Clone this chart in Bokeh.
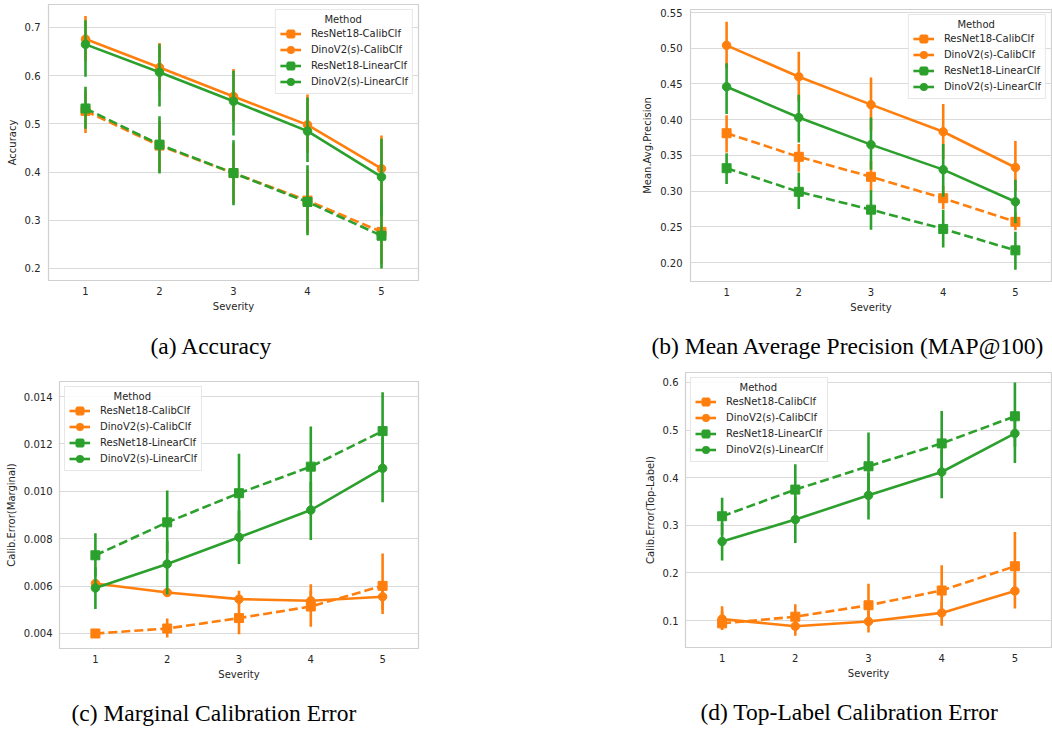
from bokeh.plotting import figure
from bokeh.layouts import column, row
from bokeh.models import (ColumnDataSource, Range1d, FixedTicker, PrintfTickFormatter,
                          Legend, LegendItem, LinearAxis, Title)
from bokeh.embed import file_html
from bokeh.resources import INLINE

# ---------------- data ----------------
severity = [1, 2, 3, 4, 5]
methods = ["ResNet18-CalibClf", "DinoV2(s)-CalibClf", "ResNet18-LinearClf", "DinoV2(s)-LinearClf"]

# (a) Accuracy
acc_resnet_calib = [0.527, 0.455, 0.398, 0.341, 0.276]
acc_resnet_calib_lo = [0.481, 0.400, 0.335, 0.274, 0.210]
acc_resnet_calib_hi = [0.570, 0.505, 0.460, 0.405, 0.345]
acc_dino_calib = [0.676, 0.617, 0.557, 0.498, 0.407]
acc_dino_calib_lo = [0.630, 0.570, 0.505, 0.440, 0.340]
acc_dino_calib_hi = [0.724, 0.668, 0.614, 0.561, 0.476]
acc_resnet_linear = [0.532, 0.457, 0.398, 0.338, 0.268]
acc_resnet_linear_lo = [0.490, 0.397, 0.331, 0.269, 0.200]
acc_resnet_linear_hi = [0.577, 0.516, 0.466, 0.414, 0.340]
acc_dino_linear = [0.665, 0.607, 0.547, 0.485, 0.390]
acc_dino_linear_lo = [0.598, 0.536, 0.476, 0.421, 0.310]
acc_dino_linear_hi = [0.715, 0.665, 0.610, 0.555, 0.469]

# (b) Mean Average Precision
map_resnet_calib = [0.381, 0.348, 0.320, 0.290, 0.257]
map_resnet_calib_lo = [0.354, 0.327, 0.300, 0.275, 0.245]
map_resnet_calib_hi = [0.406, 0.366, 0.342, 0.307, 0.270]
map_dino_calib = [0.504, 0.460, 0.421, 0.383, 0.333]
map_dino_calib_lo = [0.472, 0.425, 0.385, 0.345, 0.300]
map_dino_calib_hi = [0.537, 0.495, 0.459, 0.422, 0.370]
map_resnet_linear = [0.332, 0.299, 0.274, 0.247, 0.217]
map_resnet_linear_lo = [0.310, 0.275, 0.246, 0.221, 0.190]
map_resnet_linear_hi = [0.353, 0.326, 0.301, 0.274, 0.243]
map_dino_linear = [0.446, 0.403, 0.365, 0.330, 0.285]
map_dino_linear_lo = [0.408, 0.368, 0.330, 0.292, 0.255]
map_dino_linear_hi = [0.479, 0.435, 0.403, 0.366, 0.316]

# (c) Marginal calibration error
mce_resnet_calib = [0.00400, 0.00421, 0.00465, 0.00514, 0.00601]
mce_resnet_calib_lo = [0.00383, 0.00383, 0.00397, 0.00428, 0.00500]
mce_resnet_calib_hi = [0.00418, 0.00463, 0.00525, 0.00608, 0.00738]
mce_dino_calib = [0.00611, 0.00573, 0.00545, 0.00538, 0.00555]
mce_dino_calib_lo = [0.00600, 0.00555, 0.00520, 0.00500, 0.00482]
mce_dino_calib_hi = [0.00622, 0.00592, 0.00580, 0.00580, 0.00620]
mce_resnet_linear = [0.00730, 0.00869, 0.00992, 0.01104, 0.01254]
mce_resnet_linear_lo = [0.00640, 0.00740, 0.00830, 0.00950, 0.01090]
mce_resnet_linear_hi = [0.00823, 0.01003, 0.01158, 0.01273, 0.01418]
mce_dino_linear = [0.00592, 0.00693, 0.00806, 0.00921, 0.01097]
mce_dino_linear_lo = [0.00503, 0.00565, 0.00693, 0.00794, 0.00954]
mce_dino_linear_hi = [0.00680, 0.00790, 0.00920, 0.01040, 0.01230]

# (d) Top-label calibration error
tce_resnet_calib = [0.094, 0.108, 0.132, 0.163, 0.214]
tce_resnet_calib_lo = [0.080, 0.085, 0.100, 0.125, 0.160]
tce_resnet_calib_hi = [0.120, 0.134, 0.177, 0.216, 0.286]
tce_dino_calib = [0.103, 0.088, 0.098, 0.116, 0.162]
tce_dino_calib_lo = [0.082, 0.068, 0.075, 0.089, 0.125]
tce_dino_calib_hi = [0.130, 0.110, 0.120, 0.140, 0.200]
tce_resnet_linear = [0.319, 0.375, 0.424, 0.472, 0.529]
tce_resnet_linear_lo = [0.280, 0.325, 0.365, 0.410, 0.465]
tce_resnet_linear_hi = [0.358, 0.428, 0.495, 0.540, 0.600]
tce_dino_linear = [0.266, 0.312, 0.363, 0.412, 0.493]
tce_dino_linear_lo = [0.226, 0.263, 0.312, 0.357, 0.431]
tce_dino_linear_hi = [0.305, 0.360, 0.410, 0.460, 0.540]

acc_ticks = [0.2, 0.3, 0.4, 0.5, 0.6, 0.7]
map_ticks = [0.20, 0.25, 0.30, 0.35, 0.40, 0.45, 0.50, 0.55]
mce_ticks = [0.004, 0.006, 0.008, 0.010, 0.012, 0.014]
tce_ticks = [0.1, 0.2, 0.3, 0.4, 0.5, 0.6]

captions = ["(a) Accuracy", "(b) Mean Average Precision (MAP@100)",
            "(c) Marginal Calibration Error", "(d) Top-Label Calibration Error"]

# ---------------- style ----------------
ORANGE = "#ff7f0e"
GREEN = "#2ca02c"
colors = [ORANGE, ORANGE, GREEN, GREEN]
markers = ["square", "circle", "square", "circle"]
dashes = ["9 4", "solid", "9 4", "solid"]
msizes = [9, 8.5, 9, 8.5]
leg_marker_lw = [3, 2, 3, 2]
LW = 2.6
TXT = "#262626"
FONT = "DejaVu Sans"
NAN = float("nan")


def panel(series, ylabel, yticks, yfmt, yr, w, h, mbl, mbr, mbt, mbb,
          legend_loc, caption, cap_offset, spacer, ytick_std):
    p = figure(width=w, height=h, min_border_left=mbl, min_border_right=mbr,
               min_border_top=mbt, min_border_bottom=mbb, title=None,
               x_range=Range1d(0.5, 5.5), y_range=Range1d(*yr),
               output_backend="svg", toolbar_location=None)
    p.background_fill_color = "white"
    p.border_fill_color = "white"
    p.outline_line_color = "#d0d0d0"
    p.outline_line_width = 1.2
    p.xgrid.visible = False
    p.ygrid.grid_line_color = "#dadada"
    p.ygrid.grid_line_width = 1

    p.xaxis.ticker = FixedTicker(ticks=severity)
    p.yaxis.ticker = FixedTicker(ticks=yticks)
    p.yaxis.formatter = PrintfTickFormatter(format=yfmt)
    p.xaxis.axis_label = "Severity"
    p.yaxis.axis_label = ylabel
    for ax in (p.xaxis[0], p.yaxis[0]):
        ax.axis_line_color = None
        ax.major_tick_line_color = None
        ax.minor_tick_line_color = None
        ax.major_tick_out = 0
        ax.major_tick_in = 0
        ax.minor_tick_out = 0
        ax.major_label_text_font = FONT
        ax.major_label_text_font_size = "10px"
        ax.major_label_text_color = TXT
        ax.axis_label_text_font = FONT
        ax.axis_label_text_font_size = "10px"
        ax.axis_label_text_font_style = "normal"
        ax.axis_label_text_color = TXT
        ax.axis_label_standoff = 3
    p.xaxis.major_label_standoff = 6
    p.yaxis.major_label_standoff = ytick_std
    p.yaxis.axis_label_standoff = 4

    items = []
    for i, (mean, lo, hi) in enumerate(series):
        src = ColumnDataSource(dict(x=severity, y=mean, lo=lo, hi=hi))
        p.line("x", "y", source=src, line_color=colors[i], line_width=LW, line_dash=dashes[i])
        p.scatter("x", "y", source=src, marker=markers[i], size=msizes[i],
                  fill_color=colors[i], line_color=colors[i])
        p.segment(x0="x", y0="lo", x1="x", y1="hi", source=src,
                  line_color=colors[i], line_width=LW)
        # legend proxies (solid line + marker, as in the reference legend)
        pl = p.line(x=[NAN], y=[NAN], line_color=colors[i], line_width=LW)
        ps = p.scatter(x=[NAN], y=[NAN], marker=markers[i], size=msizes[i],
                       fill_color=colors[i], line_color=colors[i],
                       line_width=leg_marker_lw[i])
        items.append(LegendItem(label=methods[i], renderers=[pl, ps]))

    leg = Legend(items=items, location=legend_loc, title="\u00a0" * 14 + "Method",
                 margin=5, padding=4, spacing=1, glyph_width=21, glyph_height=15,
                 label_height=15, label_standoff=10, title_standoff=1,
                 label_text_font=FONT, label_text_font_size="10px", label_text_color=TXT,
                 title_text_font=FONT, title_text_font_size="10px",
                 title_text_font_style="normal", title_text_color=TXT,
                 border_line_color="#d0d0d0", border_line_width=1,
                 background_fill_color="white", background_fill_alpha=0.85)
    p.add_layout(leg)

    # invisible spacer between the x axis and the caption
    sp = LinearAxis(ticker=FixedTicker(ticks=[3]), axis_line_color=None,
                    major_tick_line_color="white", minor_tick_line_color=None,
                    major_tick_out=spacer, major_tick_in=0, minor_tick_out=0,
                    major_label_standoff=0, major_label_text_color=None,
                    axis_label=None)
    p.add_layout(sp, "below")
    cap = Title(text=caption, align="left", offset=cap_offset, standoff=0,
                vertical_align="middle", text_font="Liberation Serif",
                text_font_size="23.5px", text_font_style="normal", text_color="black")
    p.add_layout(cap, "below")
    return p


fa = panel([(acc_resnet_calib, acc_resnet_calib_lo, acc_resnet_calib_hi),
            (acc_dino_calib, acc_dino_calib_lo, acc_dino_calib_hi),
            (acc_resnet_linear, acc_resnet_linear_lo, acc_resnet_linear_hi),
            (acc_dino_linear, acc_dino_linear_lo, acc_dino_linear_hi)],
           "Accuracy", acc_ticks, "%.1f", (0.1751, 0.7477),
           639, 366, 48, 221, 4, 86, "top_right", captions[0], 102, 17, 8)

fb = panel([(map_resnet_calib, map_resnet_calib_lo, map_resnet_calib_hi),
            (map_dino_calib, map_dino_calib_lo, map_dino_calib_hi),
            (map_resnet_linear, map_resnet_linear_lo, map_resnet_linear_hi),
            (map_dino_linear, map_dino_linear_lo, map_dino_linear_hi)],
           "Mean.Avg.Precision", map_ticks, "%.2f", (0.1734, 0.5542),
           413, 366, 48, 1, 9, 85, "top_right", captions[1], -39, 16, 8)

fc = panel([(mce_resnet_calib, mce_resnet_calib_lo, mce_resnet_calib_hi),
            (mce_dino_calib, mce_dino_calib_lo, mce_dino_calib_hi),
            (mce_resnet_linear, mce_resnet_linear_lo, mce_resnet_linear_hi),
            (mce_dino_linear, mce_dino_linear_lo, mce_dino_linear_hi)],
           "Calib.Error(Marginal)", mce_ticks, "%.3f", (0.003367, 0.014633),
           641, 363, 59, 223, 15, 81, "top_left", captions[2], 12, 16, 7)

fd = panel([(tce_resnet_calib, tce_resnet_calib_lo, tce_resnet_calib_hi),
            (tce_dino_calib, tce_dino_calib_lo, tce_dino_calib_hi),
            (tce_resnet_linear, tce_resnet_linear_lo, tce_resnet_linear_hi),
            (tce_dino_linear, tce_dino_linear_lo, tce_dino_linear_hi)],
           "Calib.Error(Top-Label)", tce_ticks, "%.1f", (0.0433, 0.621),
           411, 363, 40, 1, 6, 82, "top_left", captions[3], 15, 16, 7)

# wrap each plot in its own column so that frames in a row are not forced to align
layout = column(row(column(fa), column(fb)), row(column(fc), column(fd)))
open("out.html", "w").write(file_html(layout, INLINE))
